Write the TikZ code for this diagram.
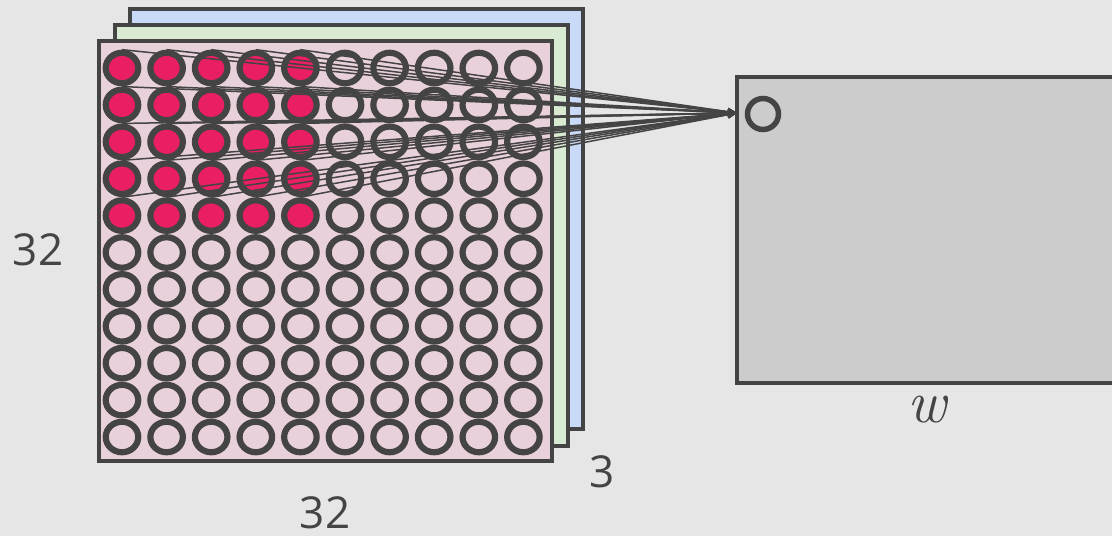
\documentclass[tikz,border=0pt]{standalone}
\usepackage{fontspec}
\newfontfamily\numfont{Open Sans}
\usetikzlibrary{shapes.geometric,arrows.meta}
\definecolor{bgc}{RGB}{230,230,230}
\definecolor{ink}{RGB}{68,68,68}
\definecolor{pinkc}{RGB}{233,209,220}
\definecolor{greenc}{RGB}{217,234,211}
\definecolor{bluec}{RGB}{201,218,248}
\definecolor{redc}{RGB}{233,30,99}
\definecolor{greyc}{RGB}{204,204,204}
\tikzset{
  sheet/.style={draw=ink,line width=3.5pt},
  cell/.style={ellipse,draw=ink,line width=6.2pt,minimum width=32.5pt,minimum height=30.5pt,inner sep=0pt,fill=pinkc},
  hot/.style={cell,fill=redc},
  link/.style={draw=ink,line width=1.5pt,-{Stealth[length=9pt,width=8pt]}},
  dimlabel/.style={text=ink,font=\numfont\fontsize{44}{48}\selectfont,inner sep=0pt},
}
\begin{document}
\begin{tikzpicture}[x=1pt,y=-1pt]
\useasboundingbox (0,0) rectangle (1112,536);
\fill[bgc] (0,0) rectangle (1112,536);
\clip (0,0) rectangle (1112,536);
% stacked sheets
\draw[sheet,fill=bluec] (130,9) rectangle (583,429);
\draw[sheet,fill=greenc] (115,25) rectangle (568,446);
\draw[sheet,fill=pinkc] (99,41) rectangle (552,461);
% grey box
\draw[sheet,fill=greyc] (737,77) rectangle (1130,383);
% grid of cells
\foreach \i in {0,...,9}{
  \foreach \j in {0,...,10}{
    \pgfmathsetmacro{\cx}{122+44.6*\i}
    \pgfmathsetmacro{\cy}{68+36.9*\j}
    \pgfmathtruncatemacro{\ishot}{(\i<5)&&(\j<5)}
    \ifnum\ishot=1
      \node[hot] (c-\i-\j) at (\cx,\cy) {};
    \else
      \node[cell] (c-\i-\j) at (\cx,\cy) {};
    \fi
  }
}
% output unit
\node[circle,draw=ink,line width=5.5pt,minimum size=31pt,inner sep=0pt] (out) at (763,114) {};
\coordinate (tip) at (737,113);
% connections
\foreach \i in {0,...,4}{
  \foreach \j in {0,...,4}{
    \draw[link] (c-\i-\j.north) -- (tip);
  }
}
% labels
\node[dimlabel] (l32a) at (38,250) {32};
\node[dimlabel] (l32b) at (325,513) {32};
\node[dimlabel] (l3) at (602,472) {3};
\node[text=ink,inner sep=0pt,font=\itshape\fontsize{60}{62}\selectfont] (lw) at (927,410) {w};
\end{tikzpicture}
\end{document}
